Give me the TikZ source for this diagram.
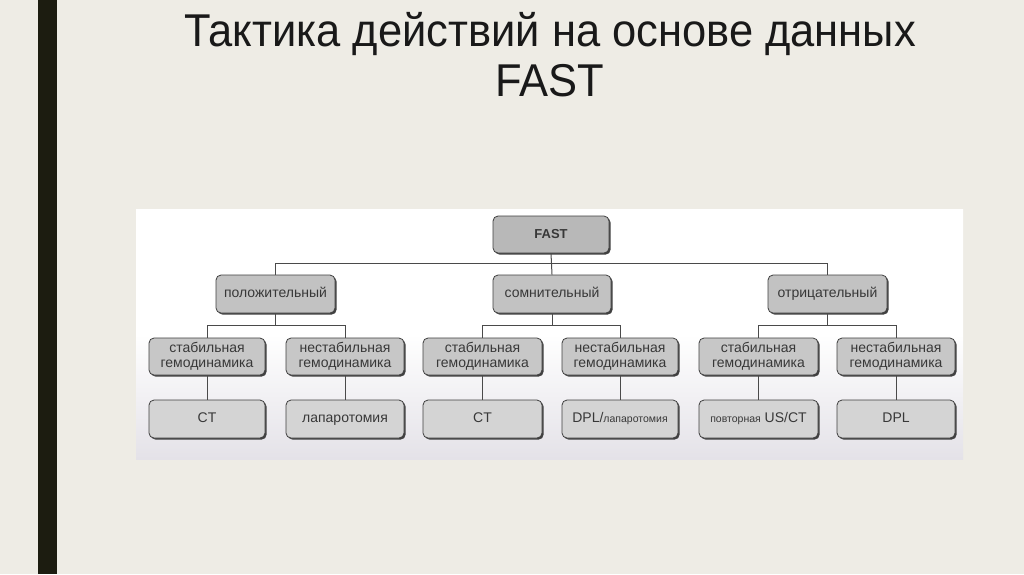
\documentclass[tikz,border=0pt]{standalone}
\usepackage{fontspec}
\setmainfont{Liberation Sans}
\newfontfamily\titlefont[FakeStretch=0.945]{Liberation Sans}
\usetikzlibrary{shadows}
\definecolor{bg}{HTML}{EEECE5}
\definecolor{barc}{HTML}{1C1C10}
\definecolor{panelbot}{HTML}{E4E2E8}
\definecolor{linec}{HTML}{4A4A4A}
\definecolor{txt}{HTML}{383838}
\tikzset{
  box/.style={draw=black!75, line width=0.8pt, rounded corners=5pt, fill=#1,
    drop shadow={shadow xshift=1.6pt, shadow yshift=-1.6pt, fill=black!75, opacity=1},
    text=txt, font=\fontsize{14}{15.5}\selectfont, align=center, inner sep=1pt},
  one/.style={text height=10pt, text depth=3pt},
  conn/.style={draw=linec, line width=1pt},
  ttl/.style={font=\titlefont\fontsize{46}{50}\selectfont, text=black!90, anchor=base, inner sep=0pt}
}
\begin{document}
\begin{tikzpicture}[x=1pt,y=-1pt]
\useasboundingbox (0,0) rectangle (1024,574);
\fill[bg] (0,0) rectangle (1024,574);
\fill[barc] (38,0) rectangle (57,574);
\node[ttl] (t1) at (550,46) {Тактика действий на основе данных};
\node[ttl] (t2) at (550,96) {FAST};
\shade[top color=white, bottom color=panelbot, middle color=white] (136,209) rectangle (963,459);
% level 1
\node[box=black!28, one, minimum width=116pt, minimum height=37pt, font=\bfseries\fontsize{13}{14}\selectfont] (fast) at (551,234.5) {FAST};
% level 2
\node[box=black!24, one, minimum width=119pt, minimum height=38pt] (pos) at (275.5,294) {положительный};
\node[box=black!24, one, minimum width=118pt, minimum height=38pt] (som) at (552,294) {сомнительный};
\node[box=black!24, one, minimum width=119pt, minimum height=38pt] (neg) at (827.5,294) {отрицательный};
% level 3
\node[box=black!22, minimum width=116pt, minimum height=37pt] (s1) at (207,356.5) {стабильная\\гемодинамика};
\node[box=black!22, minimum width=118pt, minimum height=37pt] (u1) at (345,356.5) {нестабильная\\гемодинамика};
\node[box=black!22, minimum width=119pt, minimum height=37pt] (s2) at (482.5,356.5) {стабильная\\гемодинамика};
\node[box=black!22, minimum width=116pt, minimum height=37pt] (u2) at (620,356.5) {нестабильная\\гемодинамика};
\node[box=black!22, minimum width=119pt, minimum height=37pt] (s3) at (758.5,356.5) {стабильная\\гемодинамика};
\node[box=black!22, minimum width=118pt, minimum height=37pt] (u3) at (896,356.5) {нестабильная\\гемодинамика};
% level 4
\node[box=black!17, one, minimum width=116pt, minimum height=38pt] (r1) at (207,419) {CT};
\node[box=black!17, one, minimum width=118pt, minimum height=38pt] (r2) at (345,419) {лапаротомия};
\node[box=black!17, one, minimum width=119pt, minimum height=38pt] (r3) at (482.5,419) {CT};
\node[box=black!17, one, minimum width=116pt, minimum height=38pt] (r4) at (620,419) {DPL/{\fontsize{10.5}{12}\selectfont лапаротомия}};
\node[box=black!17, one, minimum width=119pt, minimum height=38pt] (r5) at (758.5,419) {{\fontsize{10.5}{12}\selectfont повторная} US/CT};
\node[box=black!17, one, minimum width=118pt, minimum height=38pt] (r6) at (896,419) {DPL};
% connectors
\draw[conn] (fast.south) -- (som.north);
\draw[conn] (pos.north) -- ++(0,-11) -| (neg.north);
\draw[conn] (pos.south) -- ++(0,13);
\draw[conn] (s1.north) -- ++(0,-12) -| (u1.north);
\draw[conn] (som.south) -- ++(0,13);
\draw[conn] (s2.north) -- ++(0,-12) -| (u2.north);
\draw[conn] (neg.south) -- ++(0,13);
\draw[conn] (s3.north) -- ++(0,-12) -| (u3.north);
\draw[conn] (s1.south) -- (r1.north);
\draw[conn] (u1.south) -- (r2.north);
\draw[conn] (s2.south) -- (r3.north);
\draw[conn] (u2.south) -- (r4.north);
\draw[conn] (s3.south) -- (r5.north);
\draw[conn] (u3.south) -- (r6.north);
\end{tikzpicture}
\end{document}
